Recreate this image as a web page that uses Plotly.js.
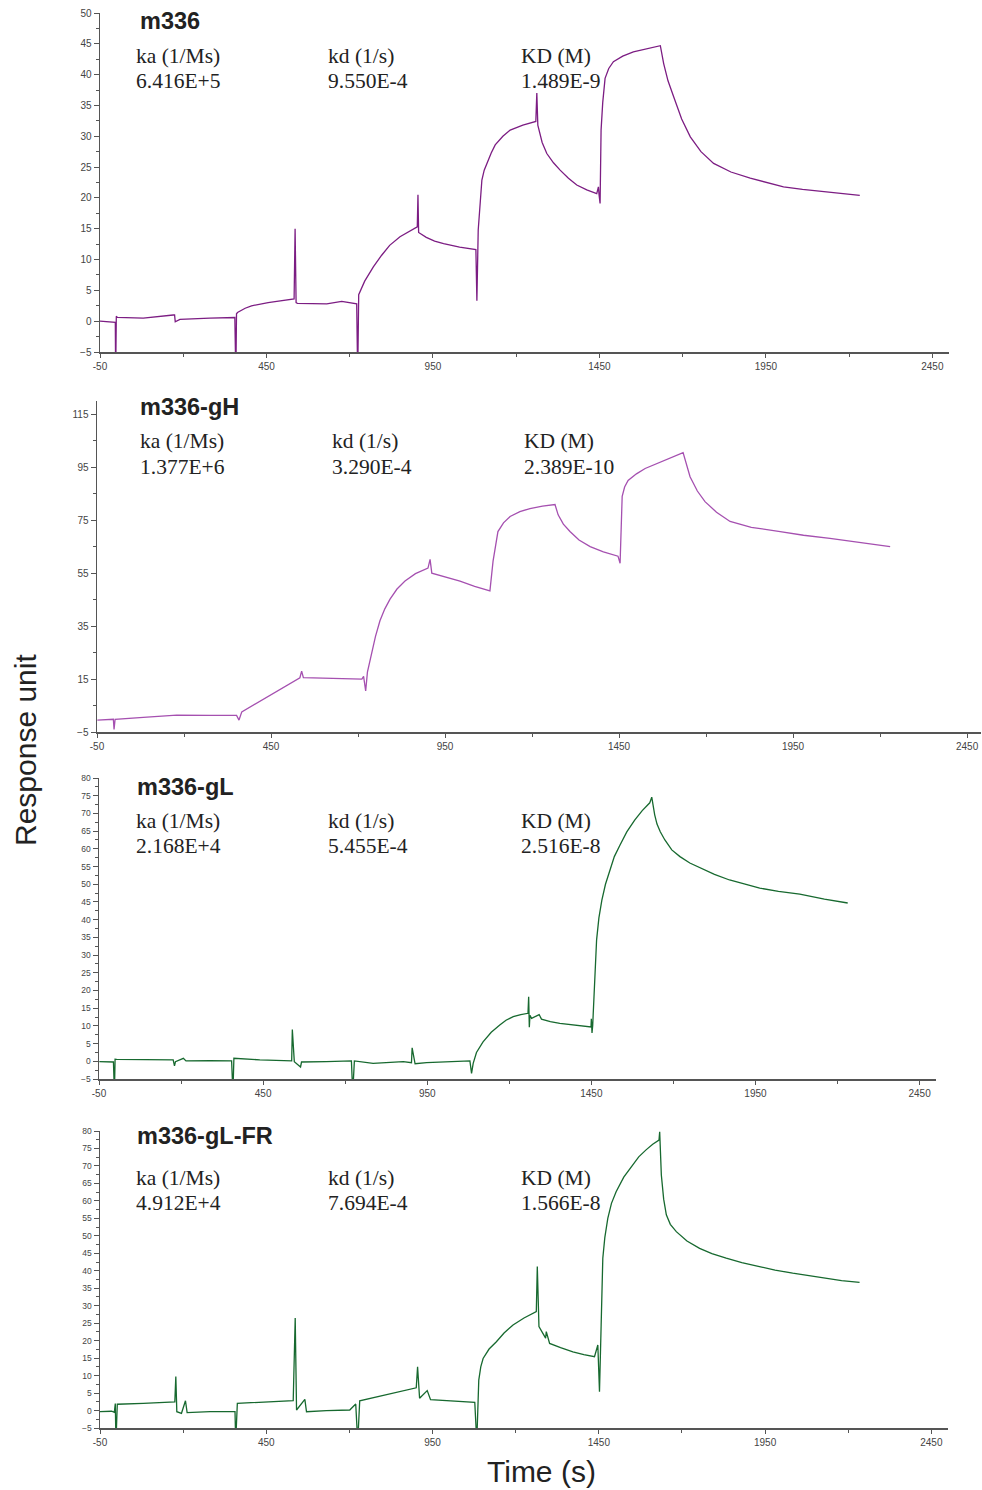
<!DOCTYPE html>
<html>
<head>
<meta charset="utf-8">
<script src="https://cdn.plot.ly/plotly-3.0.1.min.js"></script>
<style>html,body{margin:0;padding:0;background:#fff;}#chart{width:982px;height:1490px;}</style>
</head>
<body>
<div id="chart"></div>
<script>
// ---------- DATA ----------
var panelNames = ["m336", "m336-gH", "m336-gL", "m336-gL-FR"];
var kaValues = ["6.416E+5", "1.377E+6", "2.168E+4", "4.912E+4"];
var kdValues = ["9.550E-4", "3.290E-4", "5.455E-4", "7.694E-4"];
var KDValues = ["1.489E-9", "2.389E-10", "2.516E-8", "1.566E-8"];
var xTickLabels = ["-50", "450", "950", "1450", "1950", "2450"];

var time_m336 = [-50,-10,-4,-3,-1,2,80,170,174,176,190,280,355,358,360,363,386,405,431,455,481,505,533,536,539,543,631,676,721,724,727,745,771,796,820,851,875,897,903,905,907,930,955,982,1030,1079,1082,1086,1090,1097,1104,1112,1125,1137,1160,1182,1220,1259,1262,1265,1278,1292,1312,1332,1357,1382,1412,1442,1447,1449,1452,1455,1460,1467,1478,1492,1520,1552,1590,1633,1643,1656,1673,1697,1723,1755,1793,1845,1903,1950,2003,2060,2123,2180,2232];
var resp_m336 = [0.0,-0.2,-0.2,-9,0.8,0.6,0.5,1.0,1.0,-0.1,0.3,0.5,0.6,-9,1.2,1.4,2.1,2.5,2.8,3.0,3.2,3.4,3.6,15.0,3.0,2.9,2.8,3.2,2.8,-9,4.3,6.5,8.8,10.7,12.3,13.7,14.5,15.1,15.3,20.5,14.4,13.6,13.0,12.6,12.0,11.6,3.3,14.8,18.5,22.9,24.5,25.6,27.3,28.6,30.0,31.0,31.8,32.4,37.0,31.8,29.0,27.2,25.7,24.5,23.2,22.1,21.3,20.7,21.8,20.5,19.1,31.0,35.5,39.4,41.0,42.1,43.0,43.7,44.2,44.7,41.8,39.0,36.4,32.8,29.9,27.5,25.6,24.2,23.2,22.5,21.8,21.4,21.0,20.7,20.4];

var time_gH = [-49,-3,-1,2,83,179,275,351,358,366,533,538,543,610,711,716,722,727,740,750,763,777,792,812,835,865,901,907,912,950,993,1035,1079,1088,1094,1102,1118,1137,1165,1194,1230,1266,1275,1290,1309,1335,1367,1405,1447,1453,1459,1466,1476,1500,1525,1580,1634,1654,1675,1697,1730,1769,1830,1913,1980,2056,2140,2229];
var resp_gH = [-0.5,-0.2,-4.0,-0.2,0.5,1.4,1.25,1.25,-0.5,2.6,15.5,18.0,15.5,15.4,15.0,16.0,10.5,17.6,25.7,31.0,37.0,41.5,45.2,49.0,52.0,54.8,56.9,60.2,55.0,53.5,52.0,50.0,48.3,59.5,65.0,70.7,74.0,76.4,78.2,79.4,80.3,80.9,77.0,73.5,70.7,67.5,65.0,63.0,61.4,58.7,84.0,87.5,90.0,92.5,94.5,97.5,100.5,91.4,86.0,82.0,78.0,74.5,72.3,70.7,69.3,68.1,66.5,65.0];

var time_gL = [-49,-6,-3,-1,4,85,176,180,183,207,215,288,354,358,361,440,537,539,545,564,567,643,719,723,728,785,877,902,904,913,948,1080,1085,1090,1100,1120,1145,1171,1190,1212,1235,1257,1259,1261,1263,1268,1291,1298,1325,1354,1400,1449,1450,1452,1454,1457,1460,1466,1473,1482,1493,1506,1520,1537,1558,1582,1605,1628,1634,1643,1650,1660,1674,1695,1720,1750,1781,1825,1871,1915,1963,2020,2085,2160,2231];
var resp_gL = [-0.1,-0.2,-9,0.6,0.56,0.56,0.4,-1.3,-0.1,0.85,0.1,0.2,0.1,-9,0.85,0.4,0.1,9.0,-0.1,-1.6,-0.2,-0.1,0.1,-9,0.1,-0.56,-0.1,-0.4,3.8,-0.7,-0.4,0.1,-3.4,-0.56,2.5,5.5,8.2,10.25,11.6,12.6,13.2,13.55,18.2,9.6,13.0,12.1,13.2,11.9,11.2,10.7,10.2,9.7,12.0,8.0,10.0,17.3,24.0,34.3,40.5,45.5,50.0,54.0,57.8,61.0,64.8,68.1,70.8,73.0,74.6,69.6,67.0,64.8,62.5,59.7,57.8,56.0,54.6,52.8,51.2,50.0,48.9,48.0,47.2,45.8,44.7];

var time_gLFR = [-50,-15,-7,-4,-2,2,80,175,178,181,195,207,212,281,356,358,363,431,531,537,541,566,571,631,701,719,725,731,831,901,905,911,934,944,1077,1083,1089,1095,1102,1120,1142,1165,1192,1225,1262,1265,1270,1290,1292,1302,1335,1372,1405,1437,1447,1452,1457,1460,1462,1468,1477,1488,1502,1525,1552,1570,1592,1612,1631,1633,1638,1645,1653,1665,1683,1715,1753,1790,1833,1880,1933,1980,2033,2085,2133,2180,2234];
var resp_gLFR = [-0.34,-0.2,-0.5,2.0,-9,1.8,2.07,2.5,9.7,-0.34,-0.8,2.8,-0.6,-0.34,-0.34,-9,2.07,2.3,2.8,26.5,0.15,3.2,-0.34,-0.05,0.15,1.87,-9,2.8,4.93,6.5,12.5,3.5,5.7,3.1,2.36,-9,8.7,12.5,14.9,17.6,19.7,22.2,24.5,26.5,28.3,41.2,24.0,20.7,22.6,19.2,18.0,16.8,16.0,15.4,18.75,5.4,24.5,35.0,43.6,49.5,55.0,59.3,62.6,66.8,70.3,72.6,74.6,76.2,77.4,79.8,67.4,60.5,56.0,53.3,51.2,48.5,46.4,44.9,43.6,42.3,41.2,40.2,39.3,38.5,37.8,37.2,36.7];

var lineColors = ["#7c1d83", "#a550b0", "#17692f", "#17692f"];

// ---------- LAYOUT GEOMETRY (pixels) ----------
var W = 982, H = 1490;
var panels = [
  {x0:100, x1:949, yb:352, yt:13,  yr:[-5,50],  ydt:5,  ymin:2.5, yfs:10, ts:[138,21], ka:[134,56,81], kd:326, KD:519},
  {x0:97,  x1:981, yb:732, yt:401, yr:[-5,120], ydt:20, ymin:10,  yfs:10, ts:[138,407], ka:[138,441,467], kd:330, KD:522},
  {x0:99,  x1:936, yb:1079,yt:778, yr:[-5,80],  ydt:5,  ymin:2.5, yfs:8.5, ts:[135,787], ka:[134,821,846], kd:326, KD:519},
  {x0:100, x1:948, yb:1428,yt:1131,yr:[-5,80],  ydt:5,  ymin:2.5, yfs:8.5, ts:[135,1136], ka:[134,1178,1203], kd:326, KD:519}
];
var xr = [[-50,2500],[-50,2490],[-50,2500],[-50,2500]];
var times = [time_m336, time_gH, time_gL, time_gLFR];
var resps = [resp_m336, resp_gH, resp_gL, resp_gLFR];

var data = [], annotations = [];
var layout = {
  width: W, height: H, margin:{l:0,r:0,t:0,b:0},
  paper_bgcolor:"#ffffff", plot_bgcolor:"rgba(0,0,0,0)",
  showlegend:false, font:{family:"Liberation Sans, Arial, sans-serif", color:"#333"}
};
var tickVals = xTickLabels.map(Number);

panels.forEach(function(p, i){
  var n = i+1;
  var sfx = (n===1?"":String(n));
  data.push({
    x: times[i], y: resps[i], type:"scatter", mode:"lines",
    xaxis: "x"+sfx, yaxis: "y"+sfx,
    line:{color: lineColors[i], width:1.3}, hoverinfo:"skip"
  });
  layout["xaxis"+sfx] = {
    domain:[p.x0/W, p.x1/W], range: xr[i], anchor: "y"+sfx,
    showline:true, linecolor:"#555", linewidth:1.5, ticks:"outside", ticklen:4, tickcolor:"#555",
    tickmode:"array", tickvals: tickVals, ticktext: xTickLabels,
    minor:{dtick:250, tick0:-50, ticks:"outside", ticklen:3, tickcolor:"#555"},
    tickfont:{size:10, color:"#444"}, showgrid:false, zeroline:false, fixedrange:true
  };
  layout["yaxis"+sfx] = {
    domain:[1-p.yb/H, 1-p.yt/H], range: p.yr, anchor: "x"+sfx,
    showline:true, linecolor:"#555", linewidth:1.5, ticks:"outside", ticklen:5, tickcolor:"#555",
    tick0:-5, dtick:p.ydt,
    minor:{dtick:p.ymin, tick0:-5, ticks:"outside", ticklen:3, tickcolor:"#555"},
    tickfont:{size:p.yfs, color:"#444"}, showgrid:false, zeroline:false, fixedrange:true
  };
  function ann(text, x, y, font){
    annotations.push({text:text, x:x/W, y:1-y/H, xref:"paper", yref:"paper",
      xanchor:"left", yanchor:"middle", showarrow:false, font:font});
  }
  var serif = {family:"Liberation Serif, Times New Roman, serif", size:21.5, color:"#222"};
  ann("<b>"+panelNames[i]+"</b>", p.ts[0], p.ts[1], {family:"Liberation Sans, Arial, sans-serif", size:23.5, color:"#222"});
  ann("ka (1/Ms)", p.ka[0], p.ka[1], serif);
  ann(kaValues[i], p.ka[0], p.ka[2], serif);
  ann("kd (1/s)", p.kd, p.ka[1], serif);
  ann(kdValues[i], p.kd, p.ka[2], serif);
  ann("KD (M)", p.KD, p.ka[1], serif);
  ann(KDValues[i], p.KD, p.ka[2], serif);
});

annotations.push({text:"Response unit", x:25/W, y:1-750/H, xref:"paper", yref:"paper",
  textangle:-90, showarrow:false, xanchor:"center", yanchor:"middle",
  font:{family:"Liberation Sans, Arial, sans-serif", size:30, color:"#222"}});
annotations.push({text:"Time (s)", x:541/W, y:1-1471/H, xref:"paper", yref:"paper",
  showarrow:false, xanchor:"center", yanchor:"middle",
  font:{family:"Liberation Sans, Arial, sans-serif", size:30, color:"#222"}});
layout.annotations = annotations;

Plotly.newPlot("chart", data, layout, {staticPlot:true, displayModeBar:false});
</script>
</body>
</html>
